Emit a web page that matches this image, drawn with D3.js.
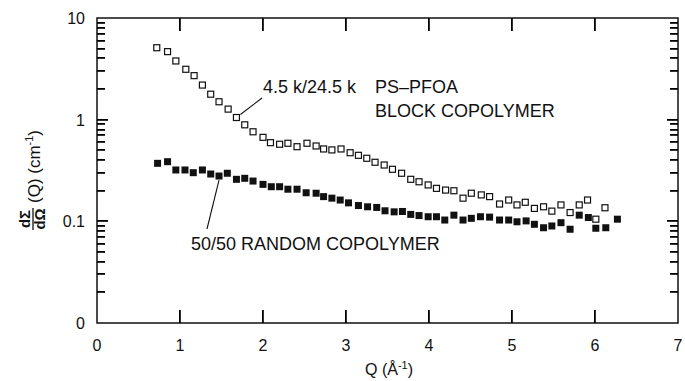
<!DOCTYPE html>
<html>
<head>
<meta charset="utf-8">
<script src="https://cdn.jsdelivr.net/npm/d3@7"></script>
<style>
  html, body { margin: 0; padding: 0; background: #fff; }
  svg { display: block; }
  text { font-family: "Liberation Sans", Arial, Helvetica, sans-serif; fill: #111; }
</style>
</head>
<body>
<svg id="chart" width="685" height="381"></svg>
<script>
// SANS scattering cross-section dΣ/dΩ vs Q for PS–PFOA copolymers
const blockQ = [0.72,0.85,0.95,1.07,1.17,1.27,1.37,1.47,1.58,1.68,
  1.78,1.88,2.00,2.09,2.20,2.30,2.41,2.53,2.64,2.73,
  2.83,2.94,3.05,3.15,3.25,3.35,3.46,3.56,3.67,3.78,
  3.88,3.99,4.09,4.20,4.30,4.41,4.51,4.63,4.73,4.85,
  4.96,5.06,5.16,5.27,5.38,5.48,5.59,5.70,5.81,5.91,
  6.01,6.12];
const blockI = [5.1,4.67,3.78,3.13,2.71,2.19,1.78,1.50,1.27,1.05,
  0.89,0.76,0.67,0.594,0.573,0.586,0.542,0.586,0.551,0.515,
  0.504,0.515,0.473,0.446,0.417,0.381,0.358,0.325,0.297,0.259,
  0.245,0.228,0.211,0.203,0.200,0.169,0.189,0.182,0.175,0.148,
  0.162,0.145,0.154,0.134,0.139,0.126,0.145,0.122,0.145,0.162,
  0.105,0.136];

const randomQ = [0.73,0.85,0.95,1.06,1.16,1.27,1.37,1.47,1.57,1.68,
  1.78,1.88,2.00,2.10,2.20,2.30,2.41,2.52,2.64,2.73,
  2.83,2.93,3.03,3.15,3.26,3.37,3.47,3.58,3.68,3.78,
  3.88,3.99,4.09,4.19,4.30,4.41,4.51,4.62,4.73,4.85,
  4.96,5.06,5.17,5.27,5.38,5.48,5.59,5.70,5.81,5.92,
  6.01,6.13,6.27];
const randomI = [0.372,0.386,0.320,0.320,0.301,0.320,0.292,0.279,0.297,0.259,
  0.265,0.249,0.231,0.219,0.219,0.207,0.207,0.191,0.189,0.175,
  0.169,0.162,0.152,0.143,0.139,0.137,0.127,0.124,0.125,0.117,
  0.114,0.111,0.111,0.103,0.115,0.103,0.107,0.111,0.110,0.103,
  0.103,0.099,0.101,0.0935,0.0865,0.090,0.097,0.0836,0.115,0.109,
  0.0855,0.0865,0.105];

const xTicks = [0,1,2,3,4,5,6,7];
const yDecades = [0.01,0.1,1,10];
const yDecadeLabels = ["0","0.1","1","10"];

const blockLabel = ["4.5 k/24.5 k", "PS\u2013PFOA", "BLOCK COPOLYMER"];
const randomLabel = "50/50 RANDOM COPOLYMER";

const svg = d3.select("#chart");
const plotL = 97, plotR = 678, plotT = 18, plotB = 323;

const x = d3.scaleLinear().domain([0, 7]).range([plotL, plotR]);
const y = d3.scaleLog().domain([0.01, 10]).range([plotB, plotT]);

const ink = "#111";

// frame
svg.append("rect")
  .attr("x", plotL).attr("y", plotT)
  .attr("width", plotR - plotL).attr("height", plotB - plotT)
  .attr("fill", "none").attr("stroke", ink).attr("stroke-width", 1.5);

// inward ticks: log minor ticks on the vertical sides, unit ticks on the horizontal sides
const yMinor = [];
[0.01, 0.1, 1].forEach(d => { for (let k = 2; k <= 9; k++) yMinor.push(d * k); });
const yTickSet = yMinor.map(v => ({ v, len: 8 }))
  .concat(yDecades.slice(1, -1).map(v => ({ v, len: 11 })));

const ticks = svg.append("g");
ticks.selectAll("rect.yl").data(yTickSet).join("rect").attr("class", "yl")
  .attr("x", plotL).attr("y", d => Math.round(y(d.v)) - 1)
  .attr("width", d => d.len).attr("height", 1.8).attr("fill", "#000");
ticks.selectAll("rect.yr").data(yTickSet).join("rect").attr("class", "yr")
  .attr("x", d => plotR - d.len).attr("y", d => Math.round(y(d.v)) - 1)
  .attr("width", d => d.len).attr("height", 1.8).attr("fill", "#000");
ticks.selectAll("rect.xb").data(xTicks.slice(1, -1)).join("rect").attr("class", "xb")
  .attr("x", d => Math.round(x(d)) - 1).attr("y", plotB - 13)
  .attr("width", 1.8).attr("height", 13).attr("fill", "#000");
ticks.selectAll("rect.xt").data(xTicks.slice(1, -1)).join("rect").attr("class", "xt")
  .attr("x", d => Math.round(x(d)) - 1).attr("y", plotT)
  .attr("width", 1.8).attr("height", 13).attr("fill", "#000");

// tick labels
svg.append("g").selectAll("text").data(xTicks).join("text")
  .attr("x", d => x(d)).attr("y", 351)
  .attr("text-anchor", "middle").attr("font-size", 16)
  .text(d => d);

svg.append("g").selectAll("text").data(yDecades).join("text")
  .attr("x", 85).attr("y", d => y(d) + 6)
  .attr("text-anchor", "end").attr("font-size", 16)
  .text((d, i) => yDecadeLabels[i]);

// axis titles
const xt = svg.append("text").attr("x", 389).attr("y", 375)
  .attr("text-anchor", "middle").attr("font-size", 16);
xt.append("tspan").text("Q (\u00C5");
xt.append("tspan").attr("font-size", 11).attr("dy", -6).text("-1");
xt.append("tspan").attr("dy", 6).text(")");

const yt = svg.append("g").attr("transform", "translate(33,219) rotate(-90)");
yt.append("text").attr("x", 0).attr("y", -3).attr("text-anchor", "middle")
  .attr("font-size", 15).attr("font-weight", "bold").text("d\u03A3");
yt.append("line").attr("x1", -11).attr("x2", 11).attr("y1", 0).attr("y2", 0)
  .attr("stroke", ink).attr("stroke-width", 1.3);
yt.append("text").attr("x", 0).attr("y", 12).attr("text-anchor", "middle")
  .attr("font-size", 15).attr("font-weight", "bold").text("d\u03A9");
const ytt = yt.append("text").attr("x", 16).attr("y", 7).attr("font-size", 17);
ytt.append("tspan").text("(Q) (cm");
ytt.append("tspan").attr("font-size", 11).attr("dy", -7).text("-1");
ytt.append("tspan").attr("dy", 7).text(")");

// markers
const sz = 7;
const blockData = blockQ.map((q, i) => ({ q, v: blockI[i] }));
const randomData = randomQ.map((q, i) => ({ q, v: randomI[i] }));

svg.append("g").selectAll("rect").data(blockData).join("rect")
  .attr("x", d => x(d.q) - sz / 2 + 0.5).attr("y", d => y(d.v) - sz / 2 + 0.5)
  .attr("width", sz - 1).attr("height", sz - 1)
  .attr("fill", "#fff").attr("stroke", ink).attr("stroke-width", 1.2);

svg.append("g").selectAll("rect").data(randomData).join("rect")
  .attr("x", d => x(d.q) - sz / 2).attr("y", d => y(d.v) - sz / 2)
  .attr("width", sz).attr("height", sz)
  .attr("fill", ink);

// annotations
const bp = blockData[9];
svg.append("line")
  .attr("x1", x(bp.q) + 4).attr("y1", y(bp.v) - 3)
  .attr("x2", 262).attr("y2", 98)
  .attr("stroke", ink).attr("stroke-width", 1.1);
svg.append("text").attr("x", 263).attr("y", 93).attr("font-size", 18).text(blockLabel[0]);
svg.append("text").attr("x", 375).attr("y", 93).attr("font-size", 18).text(blockLabel[1]);
svg.append("text").attr("x", 375).attr("y", 117).attr("font-size", 18).text(blockLabel[2]);

const rp = randomData[7];
svg.append("line")
  .attr("x1", x(rp.q)).attr("y1", y(rp.v) + 4)
  .attr("x2", 207).attr("y2", 229)
  .attr("stroke", ink).attr("stroke-width", 1.1);
svg.append("text").attr("x", 191).attr("y", 250).attr("font-size", 18).text(randomLabel);
</script>
</body>
</html>
